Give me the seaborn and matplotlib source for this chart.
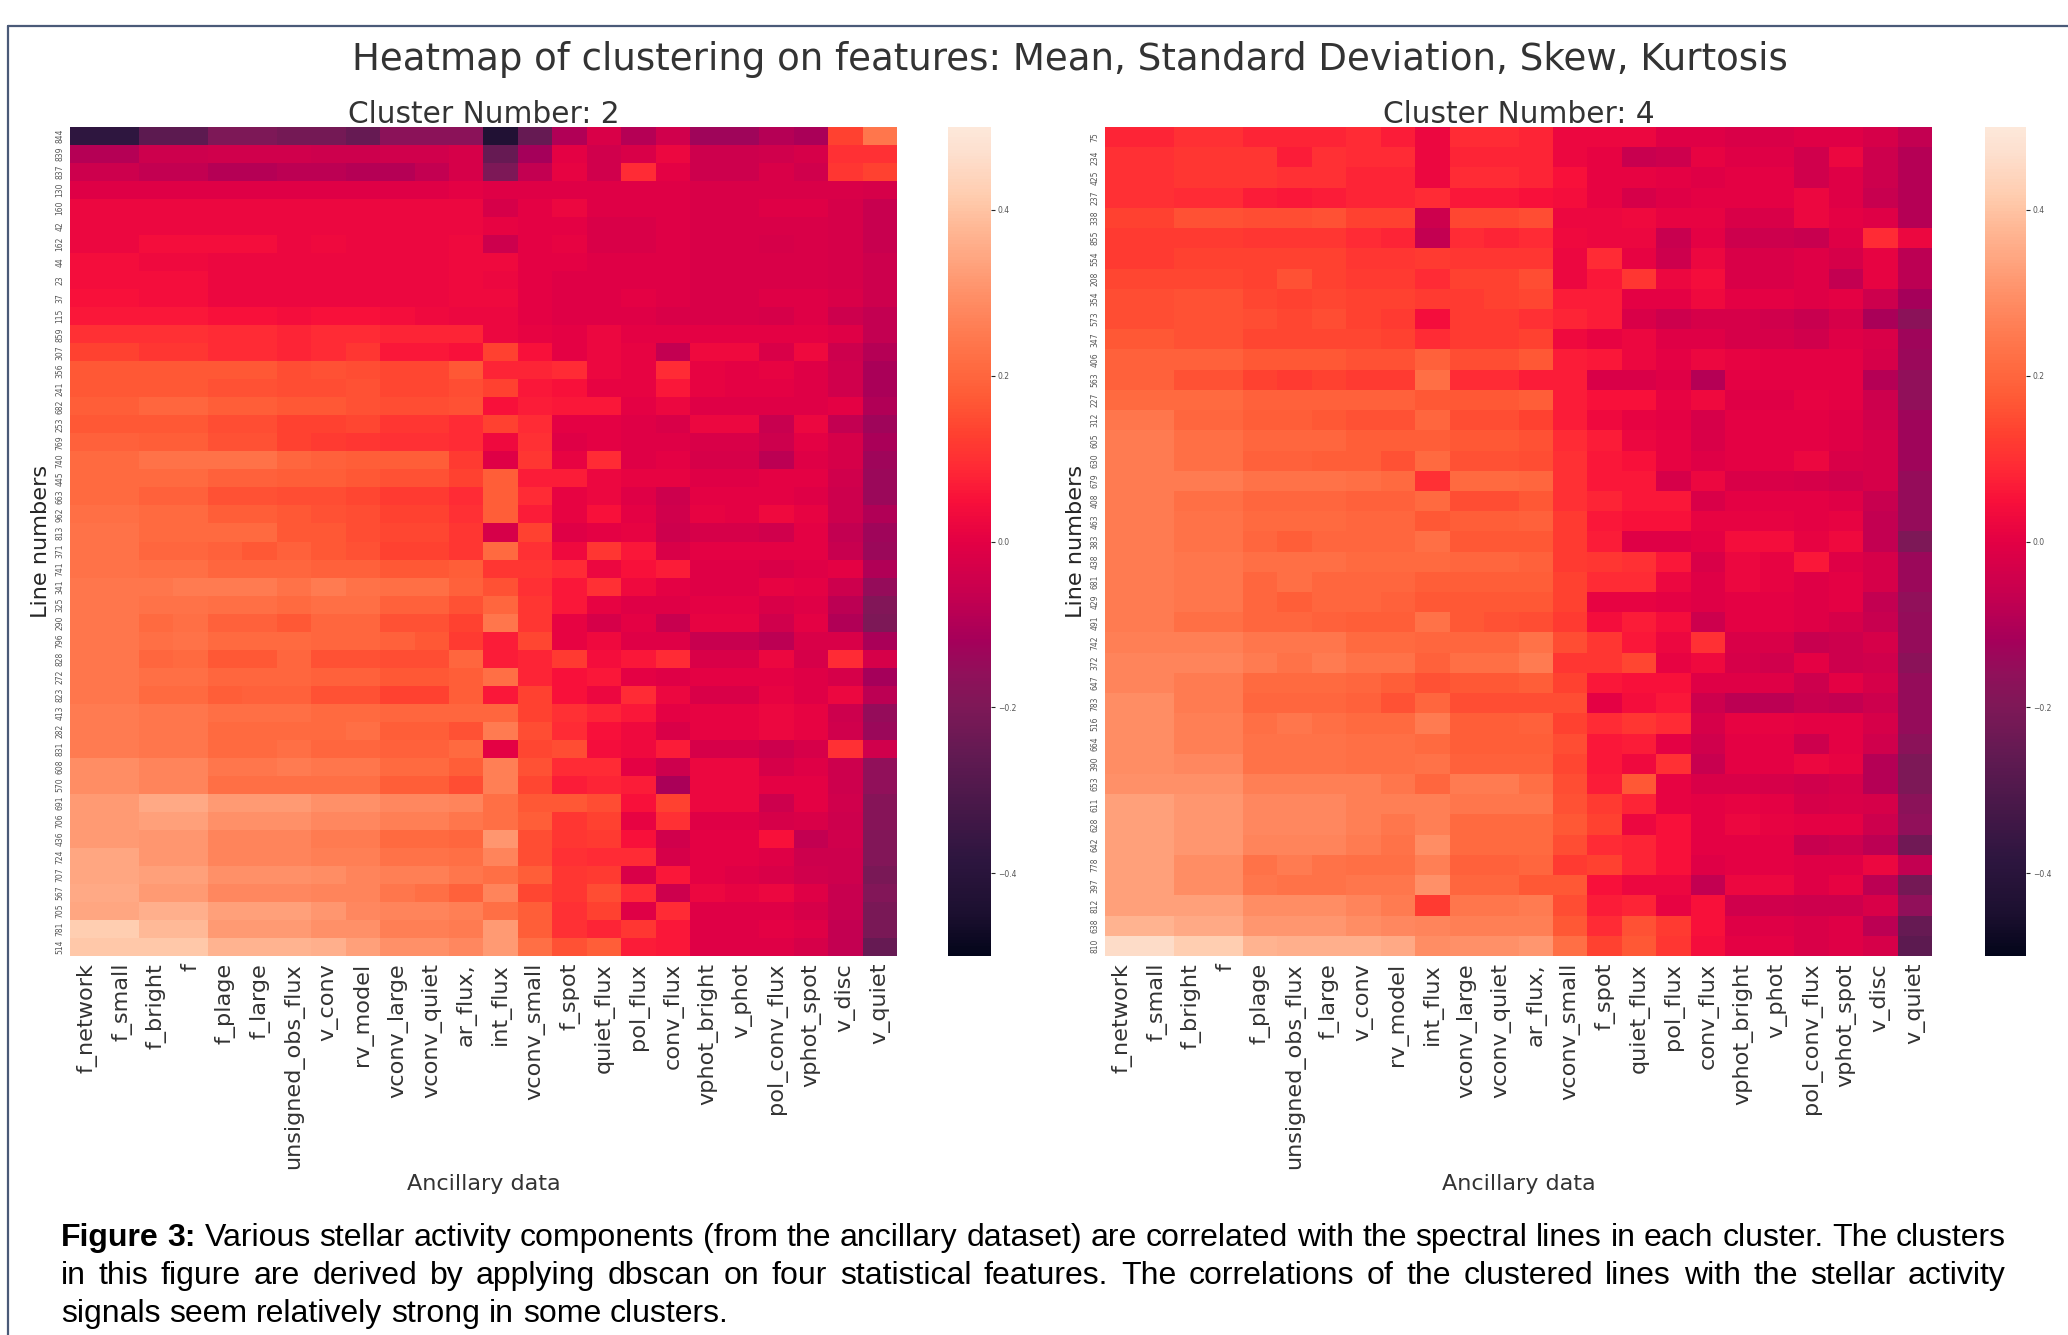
import pandas as pd
import numpy as np
import matplotlib
matplotlib.use("Agg")
import matplotlib.pyplot as plt
from matplotlib.colors import LinearSegmentedColormap
from matplotlib.lines import Line2D
import seaborn as sns

features_left = ["f_network", "f_small", "f_bright", "f", "f_plage", "f_large", "unsigned_obs_flux", "v_conv",
                 "rv_model", "vconv_large", "vconv_quiet", "ar_flux,", "int_flux", "vconv_small", "f_spot",
                 "quiet_flux", "pol_flux", "conv_flux", "vphot_bright", "v_phot", "pol_conv_flux", "vphot_spot",
                 "v_disc", "v_quiet"]
features_right = ["f_network", "f_small", "f_bright", "f", "f_plage", "unsigned_obs_flux", "f_large", "v_conv",
                  "rv_model", "int_flux", "vconv_large", "vconv_quiet", "ar_flux,", "vconv_small", "f_spot",
                  "quiet_flux", "pol_flux", "conv_flux", "vphot_bright", "v_phot", "pol_conv_flux", "vphot_spot",
                  "v_disc", "v_quiet"]

lines_left = [844, 839, 837, 130, 160, 42, 162, 44, 23, 37, 115, 859, 307, 356, 241, 682, 253, 769, 740, 445, 663,
              962, 813, 371, 741, 341, 325, 290, 796, 828, 272, 823, 413, 282, 831, 608, 570, 691, 706, 436, 724,
              707, 567, 705, 781, 514]
lines_right = [75, 234, 425, 237, 338, 855, 554, 208, 354, 573, 347, 406, 563, 227, 312, 605, 630, 679, 408, 463,
               383, 438, 681, 429, 491, 742, 372, 647, 783, 516, 664, 390, 653, 611, 628, 642, 778, 397, 812, 638,
               810]

values_left = [
    [-.38, -.38, -.27, -.27, -.20, -.20, -.22, -.22, -.25, -.17, -.17, -.17, -.43, -.25, -.10, -.02, -.09, -.04, -.13, -.13, -.09, -.11, .13, .24],
    [-.09, -.09, -.05, -.05, -.04, -.04, -.04, -.05, -.05, -.04, -.04, -.03, -.25, -.12, .00, -.04, -.02, .02, -.05, -.05, -.04, -.03, .10, .10],
    [-.05, -.05, -.07, -.07, -.09, -.09, -.08, -.08, -.09, -.09, -.07, -.03, -.20, -.07, .01, -.04, .09, .00, -.05, -.05, -.02, -.04, .11, .13],
    [-.01, -.01, -.01, -.01, -.01, -.01, -.01, -.01, -.01, -.01, -.01, .00, -.01, -.01, -.01, -.01, -.01, -.01, -.02, -.02, -.02, -.02, -.02, -.03],
    [.02, .02, .02, .02, .02, .02, .02, .02, .02, .02, .02, .02, -.03, .00, .02, -.01, -.01, -.01, -.02, -.02, -.01, -.01, -.03, -.06],
    [.02, .02, .02, .02, .02, .02, .02, .02, .02, .02, .02, .02, .01, .00, .00, -.02, -.02, -.01, -.02, -.02, -.02, -.02, -.03, -.06],
    [.02, .02, .04, .04, .04, .04, .02, .03, .02, .02, .02, .03, -.05, .00, .01, -.02, -.02, -.01, -.02, -.02, -.03, -.02, -.03, -.06],
    [.04, .04, .03, .03, .02, .02, .02, .02, .02, .02, .02, .03, .03, .00, .00, -.01, -.01, -.01, -.02, -.02, -.02, -.02, -.03, -.05],
    [.04, .04, .04, .04, .02, .02, .02, .02, .02, .02, .02, .03, .02, .00, -.01, -.01, -.01, -.01, -.02, -.02, -.02, -.02, -.03, -.05],
    [.05, .05, .04, .04, .02, .02, .02, .02, .02, .02, .02, .03, .03, .00, -.01, -.01, .00, -.01, -.02, -.02, -.01, -.01, -.02, -.05],
    [.06, .06, .06, .06, .05, .05, .04, .05, .05, .04, .03, .02, .02, .00, -.01, -.01, -.01, -.02, -.02, -.02, -.03, -.01, -.05, -.07],
    [.10, .10, .10, .10, .09, .09, .08, .09, .09, .08, .08, .08, .02, .01, .00, .02, .00, .00, .00, .00, .00, .00, -.01, -.07],
    [.13, .13, .11, .11, .09, .09, .08, .09, .11, .06, .06, .05, .13, .05, .00, .02, .01, -.07, .03, .03, -.02, .03, -.05, -.09],
    [.17, .17, .17, .17, .17, .17, .15, .16, .15, .14, .14, .17, .08, .08, .09, .02, .01, .09, .01, .00, .01, -.01, -.04, -.11],
    [.17, .17, .17, .17, .16, .16, .15, .15, .16, .14, .14, .15, .13, .06, .05, .01, .01, .06, .01, .00, .00, -.01, -.04, -.11],
    [.18, .18, .20, .20, .18, .18, .17, .17, .16, .15, .15, .16, .05, .07, .06, .06, .00, .02, -.01, -.01, -.01, -.01, .00, -.10],
    [.17, .17, .17, .17, .15, .15, .13, .13, .14, .11, .11, .09, .13, .09, .00, .00, -.01, -.02, .02, .02, -.06, .02, -.07, -.13],
    [.19, .19, .18, .18, .16, .16, .13, .12, .11, .10, .10, .09, .03, .10, -.01, .00, -.01, -.01, -.02, -.02, -.05, .00, -.03, -.11],
    [.21, .21, .23, .23, .23, .23, .20, .19, .18, .18, .18, .12, -.01, .11, .01, .09, -.01, .00, -.03, -.03, -.08, -.01, -.03, -.13],
    [.21, .21, .21, .21, .19, .19, .18, .18, .17, .16, .16, .13, .18, .07, .07, .02, .01, .01, -.01, -.01, .00, .00, -.04, -.14],
    [.21, .21, .19, .19, .16, .16, .15, .15, .14, .12, .12, .09, .18, .09, .01, .02, -.01, -.05, .00, .00, .00, -.01, -.05, -.14],
    [.22, .22, .21, .21, .18, .18, .17, .16, .15, .13, .13, .10, .18, .07, .01, .05, .00, -.04, .01, .00, .03, .01, -.05, -.10],
    [.23, .23, .21, .21, .21, .21, .17, .17, .15, .14, .14, .11, -.03, .13, -.01, .00, .01, -.05, -.03, -.03, -.04, .00, -.07, -.13],
    [.23, .23, .20, .20, .19, .17, .19, .17, .16, .13, .13, .11, .21, .10, .03, .11, .06, -.02, .00, .00, .00, .00, -.06, -.14],
    [.23, .23, .22, .22, .20, .20, .20, .19, .19, .17, .17, .18, .11, .11, .09, .02, .05, .07, -.01, -.01, -.02, -.01, .00, -.10],
    [.24, .24, .24, .25, .25, .25, .23, .25, .23, .22, .22, .19, .16, .10, .06, .10, .03, .00, -.01, -.01, .01, .00, -.05, -.15],
    [.24, .24, .23, .23, .22, .22, .21, .22, .22, .19, .19, .16, .20, .11, .06, .01, -.01, -.01, .00, .00, -.02, -.01, -.08, -.19],
    [.24, .24, .21, .22, .19, .19, .17, .20, .20, .16, .16, .13, .24, .11, .01, -.03, .00, -.06, .01, .01, -.04, .00, -.10, -.20],
    [.24, .24, .22, .23, .21, .21, .21, .20, .20, .19, .17, .12, .07, .14, .01, .03, -.01, -.01, -.06, -.06, -.08, -.02, -.02, -.11],
    [.24, .24, .20, .21, .17, .17, .20, .16, .16, .15, .15, .20, .07, .08, .12, .04, .06, .09, -.02, -.02, .02, -.03, .09, -.03],
    [.24, .24, .22, .22, .20, .20, .20, .19, .19, .17, .17, .18, .22, .08, .05, .06, .00, -.01, .00, .00, .00, -.01, -.03, -.12],
    [.24, .24, .21, .21, .18, .19, .19, .16, .16, .13, .13, .18, .06, .13, .05, .02, .09, .02, -.02, -.02, .01, -.01, .02, -.08],
    [.25, .25, .24, .24, .22, .22, .22, .21, .21, .20, .20, .20, .20, .13, .10, .08, .06, .00, .01, .01, .02, .01, -.05, -.15],
    [.25, .25, .24, .24, .21, .21, .21, .21, .22, .18, .18, .16, .25, .15, .09, .05, .03, -.02, .01, .01, .02, .01, -.04, -.14],
    [.25, .25, .24, .24, .21, .21, .22, .20, .20, .19, .19, .21, .00, .14, .15, .04, .03, .07, -.03, -.03, -.05, -.03, .10, -.04],
    [.29, .29, .27, .27, .24, .24, .25, .24, .24, .21, .21, .18, .26, .16, .09, .09, .00, -.05, .02, .02, -.03, -.01, -.05, -.16],
    [.29, .29, .27, .27, .22, .22, .22, .22, .22, .18, .18, .15, .26, .14, .07, .08, .07, -.11, .02, .02, .00, .00, -.05, -.16],
    [.32, .32, .35, .35, .32, .32, .32, .30, .30, .28, .28, .27, .22, .17, .17, .15, .05, .13, .02, .02, -.05, .00, -.04, -.18],
    [.32, .32, .33, .33, .30, .30, .30, .28, .28, .26, .26, .24, .22, .18, .11, .13, .01, .10, -.01, -.01, -.03, -.02, -.05, -.18],
    [.32, .32, .31, .31, .27, .27, .27, .25, .25, .21, .21, .20, .31, .15, .11, .12, .05, -.04, .00, .00, .05, -.07, -.04, -.19],
    [.34, .34, .31, .31, .27, .27, .27, .26, .26, .23, .23, .22, .27, .15, .10, .09, .09, -.03, .00, .00, -.01, -.05, -.05, -.19],
    [.34, .34, .33, .33, .30, .30, .30, .29, .27, .26, .26, .24, .22, .18, .11, .12, -.02, .06, .00, -.01, -.02, -.04, -.05, -.21],
    [.35, .35, .32, .32, .28, .28, .28, .27, .27, .24, .22, .19, .27, .14, .11, .15, .09, -.05, .02, .01, .02, -.01, -.06, -.19],
    [.34, .34, .36, .36, .33, .33, .33, .31, .28, .27, .27, .26, .22, .18, .10, .13, -.01, .09, -.01, -.01, -.01, -.03, -.06, -.21],
    [.42, .42, .38, .38, .32, .32, .32, .30, .30, .26, .26, .25, .32, .18, .10, .08, .11, .06, -.01, -.01, .00, -.01, -.07, -.21],
    [.41, .41, .41, .41, .37, .37, .37, .36, .33, .30, .30, .28, .32, .22, .16, .18, .07, .06, -.01, -.01, -.01, -.03, -.07, -.25],
]

values_right = [
    [.08, .08, .10, .10, .08, .08, .08, .09, .07, .02, .09, .09, .08, .02, .02, .02, -.01, -.01, -.02, -.02, -.01, -.01, -.03, -.07],
    [.10, .10, .11, .11, .11, .07, .10, .09, .09, .02, .08, .08, .08, .02, .01, -.06, -.05, .01, -.01, -.01, -.04, .02, -.05, -.09],
    [.10, .10, .11, .11, .11, .10, .10, .08, .08, .02, .09, .09, .08, .05, .01, .01, .00, -.01, .00, .00, -.04, -.01, -.05, -.09],
    [.10, .10, .09, .09, .07, .06, .07, .08, .08, .09, .06, .06, .05, .04, .01, -.03, -.01, .00, .00, .00, .02, -.01, -.06, -.09],
    [.13, .13, .16, .16, .15, .15, .16, .13, .13, -.05, .14, .14, .15, .02, .02, .03, .01, .01, -.02, -.02, .02, .00, -.01, -.09],
    [.12, .12, .12, .12, .11, .11, .11, .09, .08, -.07, .09, .08, .09, .03, .02, .02, -.06, .00, -.05, -.05, -.06, -.01, .09, .02],
    [.12, .12, .13, .13, .13, .13, .13, .11, .11, .12, .11, .11, .11, .02, .09, .01, -.05, .02, -.02, -.02, -.01, -.03, .01, -.08],
    [.14, .14, .14, .14, .13, .16, .13, .12, .12, .09, .13, .13, .15, .02, .06, .11, .02, .04, -.02, -.02, -.01, -.07, .01, -.08],
    [.15, .15, .16, .16, .14, .13, .14, .13, .13, .12, .12, .13, .14, .07, .07, .00, .00, .03, .00, .00, -.01, .00, -.05, -.12],
    [.15, .15, .16, .16, .15, .14, .15, .13, .12, .04, .12, .12, .10, .08, .07, -.02, -.05, -.03, -.03, -.04, -.06, -.03, -.11, -.17],
    [.17, .17, .16, .16, .14, .14, .14, .14, .13, .09, .12, .12, .13, .03, .01, .02, -.01, -.01, -.03, -.03, -.04, -.01, -.02, -.13],
    [.19, .19, .19, .19, .17, .17, .17, .16, .16, .19, .15, .15, .17, .07, .06, .02, .00, .02, .01, .00, .00, .00, -.03, -.14],
    [.19, .19, .16, .16, .13, .12, .13, .12, .12, .22, .09, .09, .07, .07, -.02, -.02, -.01, -.09, .00, .00, .00, .00, -.09, -.16],
    [.21, .21, .21, .21, .19, .19, .19, .19, .19, .17, .17, .17, .18, .07, .05, .05, .01, .03, -.01, -.01, .01, .00, -.05, -.16],
    [.24, .24, .20, .20, .18, .18, .17, .16, .16, .20, .15, .15, .13, .07, .03, .01, .00, -.03, .00, .00, .00, -.01, -.04, -.13],
    [.25, .25, .22, .22, .20, .20, .20, .18, .18, .18, .17, .17, .16, .09, .07, .02, .01, -.02, .00, .00, .00, -.01, -.03, -.13],
    [.25, .25, .22, .22, .19, .19, .18, .18, .16, .21, .16, .16, .15, .10, .06, .05, .01, -.01, .00, .00, .02, -.02, -.03, -.13],
    [.25, .25, .25, .25, .23, .23, .23, .22, .21, .10, .21, .21, .20, .10, .06, .06, -.03, .02, -.02, -.02, -.03, -.04, -.03, -.15],
    [.25, .25, .22, .22, .20, .20, .20, .19, .19, .21, .15, .15, .17, .10, .08, .06, .06, -.02, .00, .00, .00, -.01, -.06, -.15],
    [.25, .25, .23, .23, .21, .21, .21, .20, .20, .17, .18, .18, .19, .12, .06, .05, .05, .01, .01, .01, .00, .01, -.07, -.15],
    [.25, .25, .23, .23, .20, .18, .20, .20, .20, .22, .17, .17, .17, .12, .07, -.01, -.01, .00, .04, .04, .01, .03, -.07, -.20],
    [.25, .25, .24, .24, .22, .22, .22, .21, .21, .21, .20, .20, .19, .12, .11, .10, .06, -.02, .02, .01, .06, -.01, -.03, -.14],
    [.25, .25, .24, .24, .20, .22, .20, .20, .20, .18, .18, .18, .18, .13, .09, .09, .02, -.01, .02, .01, -.01, .00, -.03, -.14],
    [.25, .25, .24, .24, .20, .18, .20, .20, .19, .17, .17, .17, .17, .13, .01, .01, .00, -.01, .00, .00, -.01, .00, -.07, -.16],
    [.25, .25, .22, .22, .20, .20, .19, .18, .18, .23, .17, .16, .15, .12, .04, .07, .04, -.05, .00, .00, -.01, -.03, -.06, -.15],
    [.26, .26, .26, .26, .24, .24, .24, .21, .21, .20, .20, .20, .23, .15, .11, .06, .02, .10, -.02, -.02, -.06, -.05, -.03, -.15],
    [.27, .27, .27, .27, .25, .23, .25, .23, .23, .19, .22, .22, .25, .11, .11, .14, .01, .03, -.03, -.04, .00, -.05, -.04, -.17],
    [.27, .27, .25, .25, .21, .21, .21, .20, .18, .16, .17, .17, .18, .13, .06, .05, .05, -.01, -.01, -.01, -.05, .00, -.03, -.15],
    [.29, .29, .25, .25, .20, .20, .20, .19, .16, .20, .15, .15, .15, .15, .00, .04, .06, -.05, -.08, -.08, -.06, -.07, -.05, -.15],
    [.29, .29, .26, .26, .22, .24, .22, .21, .21, .25, .18, .18, .19, .13, .09, .11, .09, -.03, .01, .01, .00, .00, -.03, -.15],
    [.29, .29, .26, .26, .23, .23, .23, .22, .22, .21, .18, .18, .18, .15, .06, .07, .00, -.04, .00, .00, -.05, .00, -.04, -.17],
    [.29, .29, .28, .28, .23, .23, .23, .22, .22, .23, .19, .19, .19, .14, .06, .03, .10, -.06, .00, .00, .02, .01, -.09, -.20],
    [.30, .30, .30, .30, .26, .26, .26, .26, .24, .20, .25, .25, .22, .15, .07, .17, .01, -.02, -.02, -.03, -.04, -.03, -.09, -.20],
    [.33, .33, .31, .31, .28, .28, .28, .26, .26, .26, .24, .24, .24, .16, .12, .08, .01, .00, .01, .00, -.03, -.02, -.03, -.17],
    [.33, .33, .31, .31, .28, .28, .28, .26, .24, .26, .21, .21, .21, .17, .13, .02, .05, .00, .02, .01, .00, .00, -.05, -.16],
    [.33, .33, .31, .31, .27, .27, .27, .25, .23, .29, .21, .21, .21, .15, .09, .08, .05, .00, .00, .00, -.06, -.05, -.08, -.23],
    [.33, .33, .29, .29, .23, .25, .23, .22, .22, .26, .19, .19, .20, .12, .13, .08, .05, -.01, .00, .00, -.01, -.01, .02, -.07],
    [.33, .33, .29, .29, .24, .23, .23, .24, .24, .30, .20, .20, .17, .17, .05, .02, .02, -.07, .02, .02, -.01, .01, -.08, -.22],
    [.33, .33, .33, .33, .29, .29, .29, .27, .25, .12, .24, .24, .25, .15, .07, .08, .01, .05, -.04, -.04, -.05, -.05, -.02, -.16],
    [.37, .37, .35, .35, .31, .31, .31, .29, .28, .27, .26, .26, .26, .17, .09, .16, .12, .05, -.01, -.01, -.02, -.01, -.08, -.25],
    [.46, .46, .42, .42, .37, .36, .36, .36, .35, .29, .30, .30, .31, .22, .13, .17, .11, .04, .00, .00, -.02, -.01, -.03, -.27],
]

main_title = "Heatmap of clustering on features: Mean, Standard Deviation, Skew, Kurtosis"
caption = [
    "Figure 3: Various stellar activity components (from the ancillary dataset) are correlated with the spectral lines in each cluster. The clusters",
    "in this figure are derived by applying dbscan on four statistical features. The correlations of the clustered lines with the stellar activity",
    "signals seem relatively strong in some clusters.",
]

cbar_stops = [-.50, -.45, -.38, -.26, -.20, -.16, -.12, -.06, .00, .05, .09, .13, .17, .21, .25, .30, .34, .38, .42, .47, .50]
cbar_colors = ["#03051a", "#1c1030", "#2f1640", "#611a52", "#7e1857", "#90105a", "#a5005a", "#c8004f", "#e30044",
               "#f8103a", "#ff2a35", "#ff4030", "#ff5835", "#ff6a40", "#ff7a50", "#ff9068", "#ffa47f", "#ffb895",
               "#ffcdb0", "#fddfce", "#fde8da"]
W, H = 2068, 1335


def px_axes(fig, x0, x1, y0, y1):
    # pixel box measured from the top left corner of the picture
    return fig.add_axes([x0 / W, 1 - y1 / H, (x1 - x0) / W, (y1 - y0) / H])


def draw_panel(fig, values, lines, features, number, box, cbar_box, cmap):
    df = pd.DataFrame(values, index=lines, columns=features)
    ax = px_axes(fig, *box)
    cax = px_axes(fig, *cbar_box)
    sns.heatmap(df, ax=ax, cbar_ax=cax, cmap=cmap, vmin=-0.5, vmax=0.5, xticklabels=True, yticklabels=True)
    ax.set_title(f"Cluster Number: {number}", fontsize=21.3, pad=3, color=".2")
    ax.set_xlabel("Ancillary data", fontsize=16, labelpad=3.5, color=".2")
    ax.set_ylabel("Line numbers", fontsize=16.2, labelpad=3.5, color=".15")
    ax.tick_params(axis="x", labelsize=16.1, rotation=90, length=0, pad=5, labelcolor=".2")
    ax.tick_params(axis="y", labelsize=5.5, rotation=90, length=0, pad=4, labelcolor="#555555")
    for lab in ax.get_yticklabels():
        lab.set_va("center")
    cax.set_yticks([-0.4, -0.2, 0.0, 0.2, 0.4])
    cax.tick_params(axis="y", right=True, labelsize=5.5, length=3, width=0.8, pad=2, labelcolor="#555555")


def justified_line(fig, renderer, text, y, x0, x1, stretch):
    words = text.split(" ")
    items = []
    bold_left = 2 if text.startswith("Figure 3:") else 0
    for i, word in enumerate(words):
        t = fig.text(x0 / W, 1 - y / H, word, fontsize=23, family="Liberation Sans",
                     fontweight="bold" if i < bold_left else "normal", color="black", va="baseline")
        items.append((t, t.get_window_extent(renderer).width))
    total = sum(w for _, w in items)
    gap = (x1 - x0 - total) / (len(words) - 1) if stretch else 8.8
    x = x0
    for t, w in items:
        t.set_x(x / W)
        x += w + gap


sns.set_style("white")
fig = plt.figure(figsize=(W / 100, H / 100), dpi=100, facecolor="white")

cmap = LinearSegmentedColormap.from_list("scan_rocket", [((s + .5), c) for s, c in zip(cbar_stops, cbar_colors)])
draw_panel(fig, values_left, lines_left, features_left, 2, (70, 897, 127, 956), (948, 991, 127, 956), cmap)
draw_panel(fig, values_right, lines_right, features_right, 4, (1105, 1932, 127, 956), (1985, 2026, 127, 956), cmap)

fig.text(1070 / W, 1 - 59.5 / H, main_title, fontsize=26.7, color=".2", ha="center", va="center")

renderer = fig.canvas.get_renderer()
justified_line(fig, renderer, caption[0], 1246, 61, 2006, True)
justified_line(fig, renderer, caption[1], 1284, 61, 2006, True)
justified_line(fig, renderer, caption[2], 1322, 61, 2006, False)

# frame of the page the figure was cut from
frame = "#4a5a78"
fig.add_artist(Line2D([8 / W, 8 / W], [0, 1 - 26 / H], color=frame, lw=1.6))
fig.add_artist(Line2D([8 / W, 1], [1 - 26 / H, 1 - 26 / H], color=frame, lw=1.6))

fig.savefig("out.png", dpi=100, facecolor="white")
